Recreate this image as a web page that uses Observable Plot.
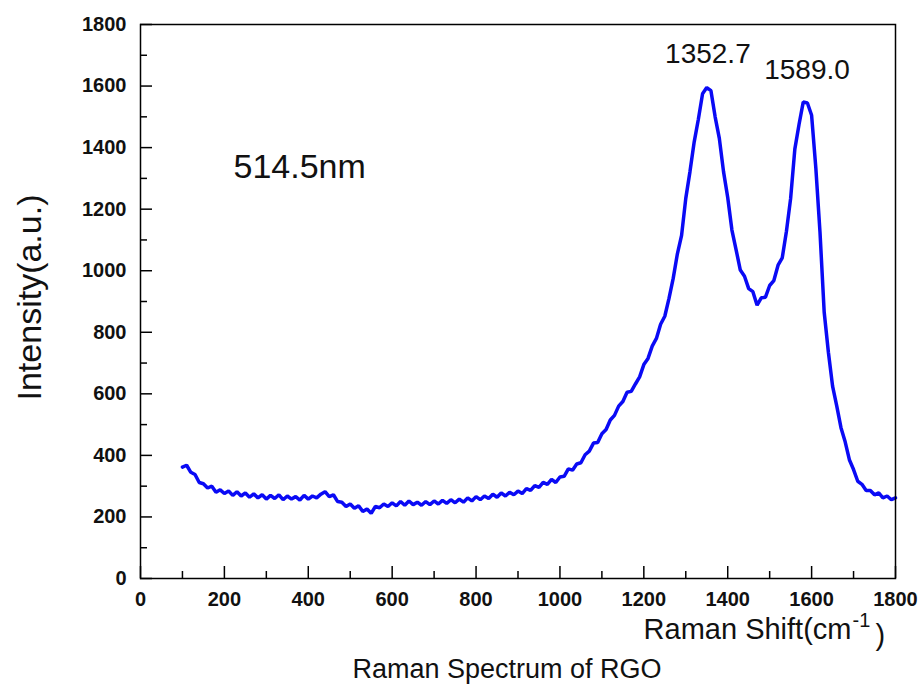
<!DOCTYPE html>
<html><head><meta charset="utf-8">
<script src="https://cdn.jsdelivr.net/npm/d3@7"></script>
<script src="https://cdn.jsdelivr.net/npm/@observablehq/plot@0.6"></script>
<style>body{margin:0;background:#fff}</style>
</head><body><div id="chart"></div>
<script>
const shift = [100,110,120,130,140,150,160,170,180,190,
200,210,220,230,240,250,260,270,280,290,
300,310,320,330,340,350,360,370,380,390,
400,410,420,430,440,450,460,470,480,490,
500,510,520,530,540,550,560,570,580,590,
600,610,620,630,640,650,660,670,680,690,
700,710,720,730,740,750,760,770,780,790,
800,810,820,830,840,850,860,870,880,890,
900,910,920,930,940,950,960,970,980,990,
1000,1010,1020,1030,1040,1050,1060,1070,1080,1090,
1100,1110,1120,1130,1140,1150,1160,1170,1180,1190,
1200,1210,1220,1230,1240,1250,1260,1270,1280,1290,
1300,1310,1320,1330,1340,1350,1360,1370,1380,1390,
1400,1410,1420,1430,1440,1450,1460,1470,1480,1490,
1500,1510,1520,1530,1540,1550,1560,1570,1580,1590,
1600,1610,1620,1630,1640,1650,1660,1670,1680,1690,
1700,1710,1720,1730,1740,1750,1760,1770,1780,1790,1800];
const intensity = [362,368,345,338,312,308,294,300,280,288,
276,284,270,282,268,278,264,275,262,272,
258,270,260,272,256,268,258,266,255,270,
258,268,262,274,282,266,272,250,248,234,
242,228,236,218,226,212,234,230,242,234,
246,236,250,238,252,240,248,238,250,240,
252,242,254,244,256,246,258,248,262,252,
266,256,268,260,274,264,278,268,280,272,
284,276,292,286,302,296,312,306,322,312,
330,332,356,352,372,376,402,414,440,442,
470,484,515,530,560,575,605,608,632,655,
695,715,755,780,826,852,910,975,1055,1115,
1235,1322,1418,1492,1575,1595,1585,1500,1430,1322,
1238,1132,1068,1002,982,942,932,888,912,914,
952,968,1018,1042,1128,1235,1395,1475,1548,1545,
1505,1335,1125,865,735,625,560,490,444,386,
354,316,306,286,286,272,278,262,268,256,262];
const xMajorTicks = [0,200,400,600,800,1000,1200,1400,1600,1800];
const xMinorTicks = [100,300,500,700,900,1100,1300,1500,1700];
const yMajorTicks = [0,200,400,600,800,1000,1200,1400,1600,1800];
const yMinorTicks = [100,300,500,700,900,1100,1300,1500,1700];
const peakShift = [1352.7, 1589.0];
const peakIntensity = [1605, 1550];
const peakLabels = ["1352.7", "1589.0"];
const laserLabel = "514.5nm";
const xTitle = "Raman Shift(cm";
const xTitleSup = "-1";
const xTitleEnd = ")";
const yTitle = "Intensity(a.u.)";
const caption = "Raman Spectrum of RGO";

const spectrum = shift.map((s, i) => ({shift: s, intensity: intensity[i]}));
const peaks = peakShift.map((s, i) => ({shift: s, intensity: peakIntensity[i], label: peakLabels[i]}));

const tickFont = {fontSize: 20, fontWeight: "bold", fill: "#111", tickFormat: d => String(d)};

const chart = Plot.plot({
  width: 921,
  height: 684,
  marginLeft: 140,
  marginRight: 26,
  marginTop: 24,
  marginBottom: 106,
  style: {fontFamily: "'Liberation Sans', Arial, sans-serif", background: "#fff", color: "#000"},
  x: {domain: [0, 1800], label: null},
  y: {domain: [0, 1800], label: null},
  marks: [
    Plot.line(spectrum, {x: "shift", y: "intensity", stroke: "#0a0af5", strokeWidth: 3.5, strokeLinejoin: "miter"}),
    Plot.frame({stroke: "#000", strokeWidth: 1.5}),
    Plot.axisX(xMajorTicks, {anchor: "bottom", tickSize: -12, tickPadding: 25, strokeWidth: 1.5, label: null, ...tickFont}),
    Plot.axisX(xMinorTicks, {anchor: "bottom", tickSize: -7, strokeWidth: 1.5, tickFormat: () => "", label: null}),
    Plot.axisY(yMajorTicks, {anchor: "left", tickSize: -12, tickPadding: 26, strokeWidth: 1.5, label: null, ...tickFont}),
    Plot.axisY(yMinorTicks, {anchor: "left", tickSize: -7, strokeWidth: 1.5, tickFormat: () => "", label: null}),
    Plot.text(peaks, {x: "shift", y: "intensity", text: "label", dy: -22, lineAnchor: "bottom", textAnchor: "middle", fontSize: 28, fill: "#111"}),
    Plot.text([laserLabel], {frameAnchor: "top-left", dx: 93, dy: 153, lineAnchor: "bottom", textAnchor: "start", fontSize: 34, fill: "#111"}),
    Plot.text([yTitle], {frameAnchor: "left", rotate: -90, dx: -100, dy: -4, lineAnchor: "bottom", textAnchor: "middle", fontSize: 34, fill: "#111"}),
    Plot.text([xTitle], {frameAnchor: "bottom-right", dx: -44, dy: 60, lineAnchor: "bottom", textAnchor: "end", fontSize: 29, fill: "#111"}),
    Plot.text([xTitleSup], {frameAnchor: "bottom-right", dx: -43, dy: 48, lineAnchor: "bottom", textAnchor: "start", fontSize: 20, fill: "#111"}),
    Plot.text([xTitleEnd], {frameAnchor: "bottom-right", dx: -20, dy: 66, lineAnchor: "bottom", textAnchor: "start", fontSize: 29, fill: "#111"}),
    Plot.text([caption], {frameAnchor: "bottom", dx: -11, dy: 99, lineAnchor: "bottom", textAnchor: "middle", fontSize: 27, fill: "#111"})
  ]
});
document.getElementById("chart").appendChild(chart);
</script>
</body></html>
